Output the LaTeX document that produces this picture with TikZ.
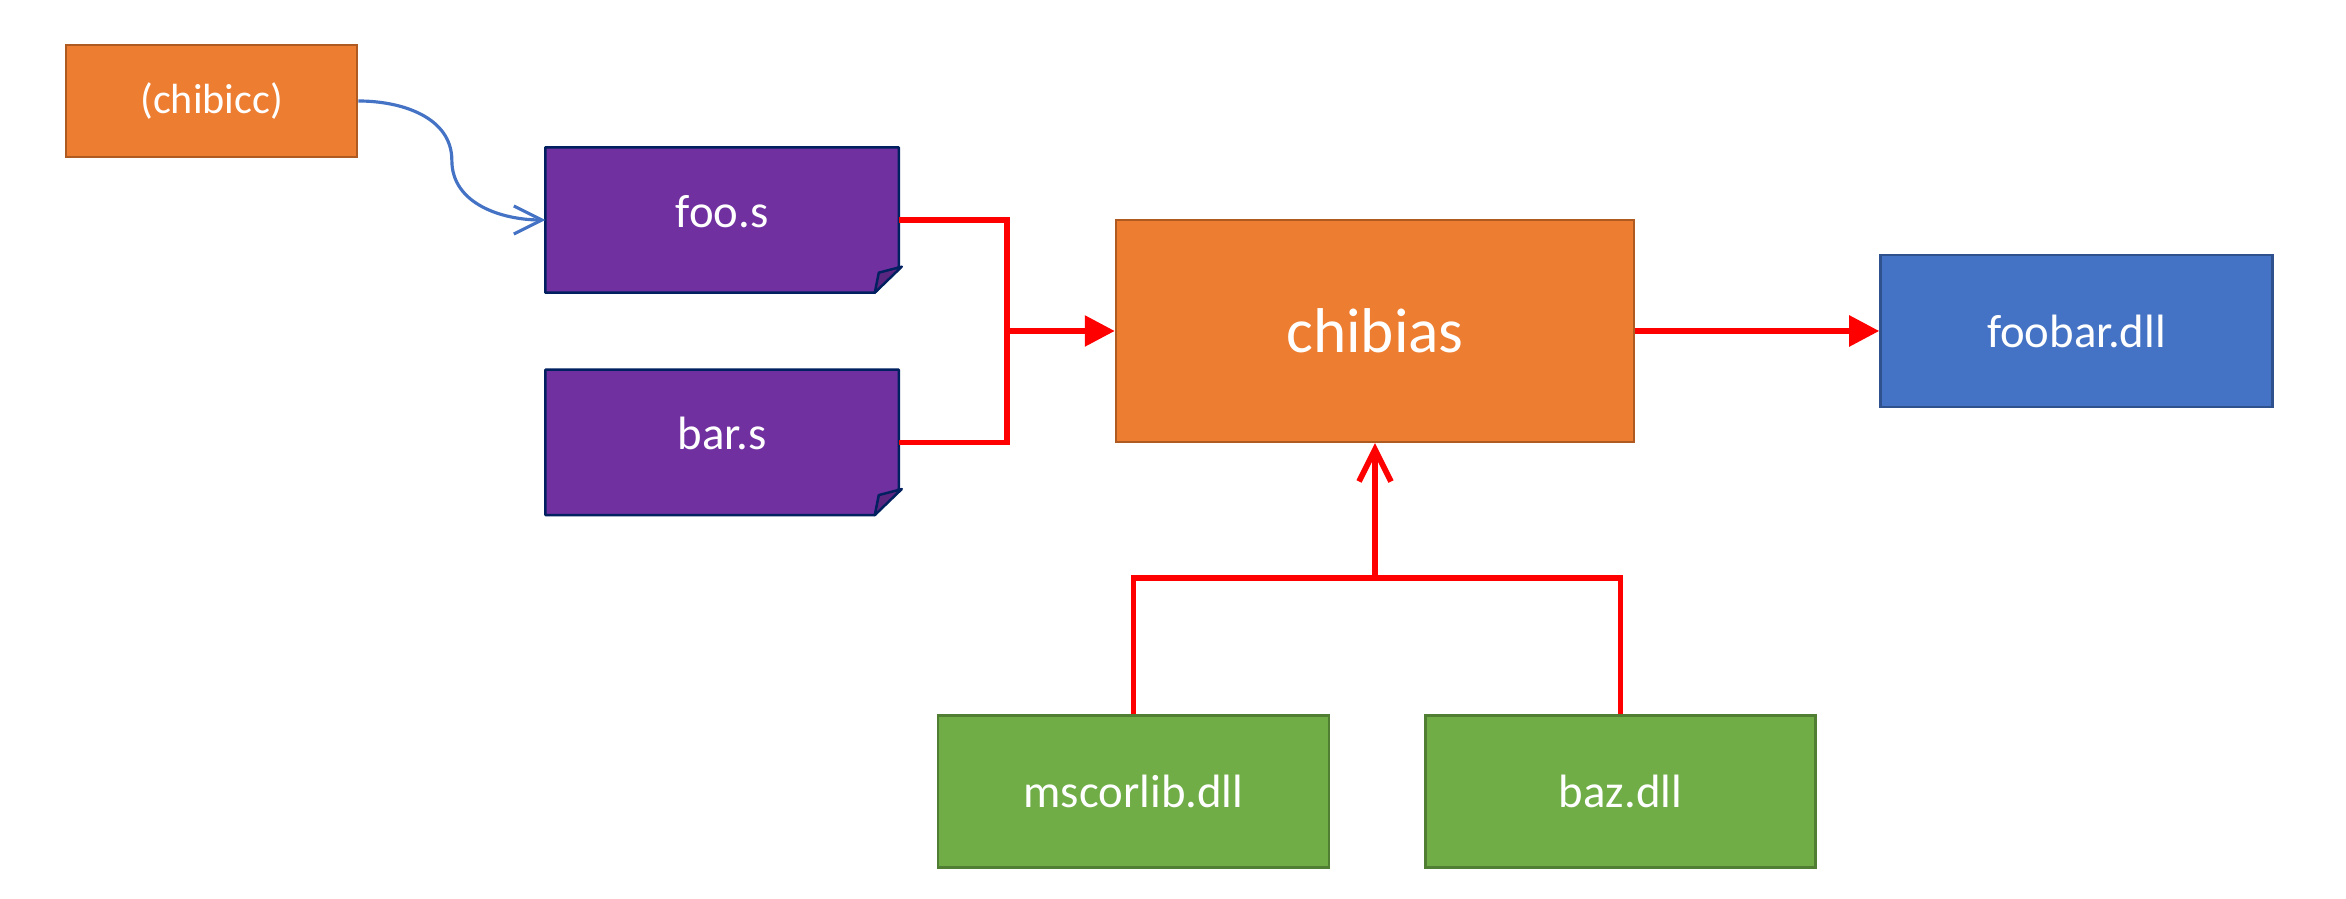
\documentclass[tikz,border=0pt]{standalone}
\usepackage{fontspec}
\setmainfont{Carlito}
\usepackage{xcolor}
\usepackage{tikz}
\usetikzlibrary{arrows.meta, positioning, backgrounds, calc}

\definecolor{toolorange}{HTML}{ED7D31}
\definecolor{toolrim}{HTML}{AE5A21}
\definecolor{filepurple}{HTML}{7030A0}
\definecolor{filenavy}{HTML}{002060}
\definecolor{libgreen}{HTML}{70AD47}
\definecolor{librim}{HTML}{507E32}
\definecolor{outblue}{HTML}{4472C4}
\definecolor{outrim}{HTML}{2F528F}

% purple source file with a turned-down corner
\newcommand{\foldedfile}[1]{%
  \filldraw[fill=filepurple, draw=filenavy, line width=0.7pt, line join=round]
    (#1.north west) -- (#1.north east) -- ([yshift=0.26cm]#1.south east)
    -- ([xshift=-0.24cm]#1.south east) -- (#1.south west) -- cycle;
  \filldraw[fill=filepurple!80!black, draw=filenavy, line width=0.7pt, line join=round]
    ([xshift=-0.24cm]#1.south east) -- ([xshift=-0.20cm,yshift=0.20cm]#1.south east)
    -- ([xshift=0.03cm,yshift=0.26cm]#1.south east) -- cycle;
}

\begin{document}
\begin{tikzpicture}[
    node distance=1cm,
    label font/.style={font=\fontsize{13.3}{16}\selectfont},
    tool/.style={rectangle, draw=toolrim, fill=toolorange, line width=0.7pt, text=white, align=center},
    srcfile/.style={rectangle, minimum width=3.52cm, minimum height=1.44cm, text depth=0.18cm, text=white, label font},
    library/.style={rectangle, draw=librim, fill=libgreen, line width=0.7pt, minimum width=3.91cm, minimum height=1.52cm, text=white, label font},
    product/.style={rectangle, draw=outrim, fill=outblue, line width=0.7pt, minimum width=3.92cm, minimum height=1.52cm, text=white, label font},
    feed/.style={red, line width=1.6pt},
    flow/.style={feed, -{Triangle[length=0.3cm,width=0.3cm]}},
    pull/.style={feed, -{Straight Barb[length=0.32cm,width=0.32cm]}},
    compile/.style={outblue, line width=0.9pt, -{Straight Barb[length=0.28cm,width=0.28cm]}}
]
\useasboundingbox (0,0) rectangle (23.46,-8.99);

% Assembler
\node[tool, minimum width=5.18cm, minimum height=2.22cm, font=\fontsize{18}{22}\selectfont] (chibias) at (13.75,-3.31) {chibias};

% Output
\node[product, right=2.44cm of chibias] (foobar) {foobar.dll};

% Assembly sources
\node[srcfile, left=2.16cm of chibias, yshift=1.11cm] (foo) {foo.s};
\node[srcfile, below=0.77cm of foo] (bar) {bar.s};

% Compiler
\node[tool, minimum width=2.91cm, minimum height=1.12cm, font=\fontsize{12}{14}\selectfont, left=1.87cm of foo, yshift=1.19cm] (chibicc) {(chibicc)};

% Referenced libraries
\node[library, below=2.71cm of chibias, xshift=-2.415cm] (mscorlib) {mscorlib.dll};
\node[library, right=0.94cm of mscorlib, minimum width=3.90cm] (baz) {baz.dll};

\begin{scope}[on background layer]
  \foldedfile{foo}
  \foldedfile{bar}
\end{scope}

% Junction points
\coordinate (bend) at ($(chibicc.east)!0.5!(foo.west)$);
\coordinate (join) at ([xshift=-1.08cm]chibias.west);
\coordinate (merge) at ([yshift=-1.35cm]chibias.south);

% Compiler to source
\draw[compile] (chibicc.east) to[out=0,in=90] (bend) to[out=-90,in=180] (foo.west);

% Sources to assembler
\draw[feed] (foo.east) -| (join);
\draw[feed] (bar.east) -| (join);
\draw[flow] (join) -- (chibias.west);

% Libraries to assembler
\draw[feed] (mscorlib.north) |- (merge);
\draw[feed] (baz.north) |- (merge);
\draw[pull] (merge) -- (chibias.south);

% Assembler to output
\draw[flow] (chibias.east) -- (foobar.west);

\end{tikzpicture}
\end{document}
